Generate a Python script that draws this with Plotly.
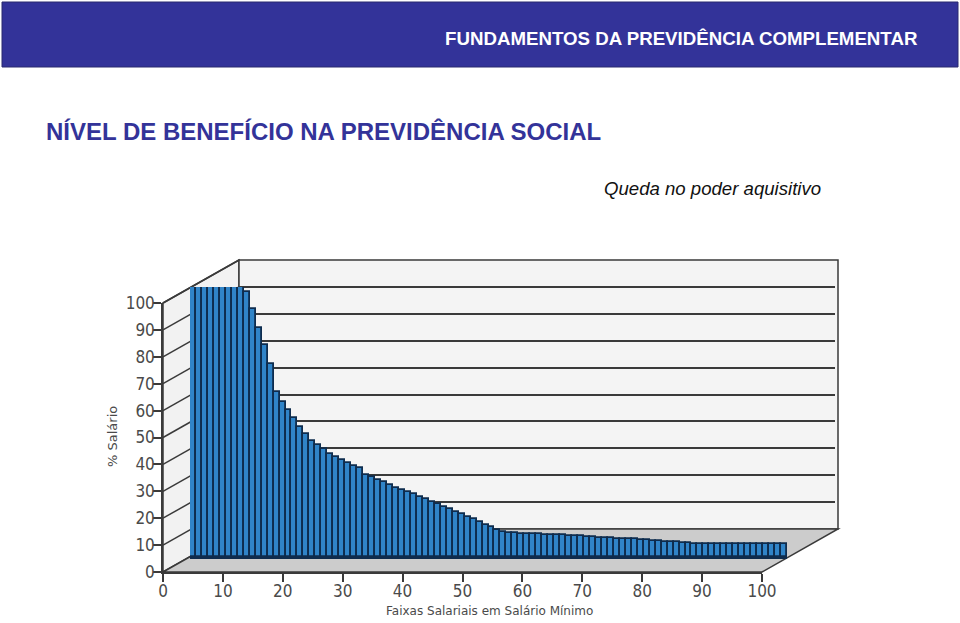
import plotly.graph_objects as go

W, H = 960, 623

# ---- data ----
faixas = list(range(1, 101))
pct_salario = [100] * 9 + [
    98.3, 91.8, 84.9, 78.5, 71.5, 61.2, 57.5, 54.4, 51.3, 48.3,
    45.5, 43.0, 41.5, 40.0, 38.1, 36.9, 35.9, 34.9, 33.6, 33.0,
    30.2, 29.5, 28.5, 27.7, 26.8, 25.6, 24.9, 24.1, 23.2, 22.3,
    21.4, 20.5, 19.6, 18.5, 17.7, 16.7, 15.8, 14.7, 14.0, 12.9,
    12.0, 11.0, 10.0, 9.3, 8.9, 8.8, 8.7, 8.6, 8.5, 8.4,
    8.3, 8.2, 8.1, 8.0, 7.9, 7.7, 7.6, 7.5, 7.3, 7.1,
    7.0, 6.9, 6.8, 6.7, 6.6, 6.5, 6.3, 6.2, 6.0, 5.9,
    5.7, 5.5, 5.4, 5.2, 5.1, 5.0, 5.0, 5.0, 5.0, 5.0,
    5.0, 5.0, 5.0, 5.0, 5.0, 5.0, 5.0, 5.0, 5.0, 5.0,
    5.0,
]
x_ticks = [0, 10, 20, 30, 40, 50, 60, 70, 80, 90, 100]
y_ticks = [0, 10, 20, 30, 40, 50, 60, 70, 80, 90, 100]
header_text = "FUNDAMENTOS DA PREVIDÊNCIA COMPLEMENTAR"
title_text = "NÍVEL DE BENEFÍCIO NA PREVIDÊNCIA SOCIAL"
subtitle_text = "Queda no poder aquisitivo"
x_title = "Faixas Salariais em Salário Mínimo"
y_title = "% Salário"

# ---- pixel geometry of the fake 3-D box ----
FX0, FX1, FY0, FY1 = 163, 762, 572, 303   # front plane
BX0, BX1, BY0, BY1 = 239, 838, 529, 260   # back wall
MX0, MX1, MY0, MY1 = 190, 787, 557, 287   # plane of the bars
LINE = "#3a3a3a"
TEXT = "#4a4a4a"
NAVY = "#0e2c4e"


def px(x):
    return x / W


def py(y):
    return 1 - y / H


def dom_x(a, b):
    return [px(a), px(b)]


def dom_y(a, b):
    return [py(a), py(b)]


def poly(points, fill, line=None, width=1.5):
    path = "M " + " L ".join(f"{px(x)},{py(y)}" for x, y in points) + " Z"
    return dict(type="path", path=path, xref="paper", yref="paper", layer="below",
                fillcolor=fill, line=dict(color=line or fill, width=width))


def seg(x0, y0, x1, y1, color=LINE, width=1.5):
    return dict(type="line", xref="paper", yref="paper", layer="below",
                x0=px(x0), y0=py(y0), x1=px(x1), y1=py(y1),
                line=dict(color=color, width=width))


shapes = [
    dict(type="rect", xref="paper", yref="paper", layer="below",
         x0=px(2), x1=px(958), y0=py(67), y1=py(2),
         fillcolor="#333399", line=dict(color="#2a2a6e", width=1)),
    poly([(FX0, FY1), (BX0, BY1), (BX0, BY0), (FX0, FY0)], "#f2f2f2", LINE),
    poly([(BX0, BY1), (BX1, BY1), (BX1, BY0), (BX0, BY0)], "#f4f4f4", LINE),
    poly([(FX0, FY0), (BX0, BY0), (BX1, BY0), (FX1, FY0)], "#cccccc", LINE),
]
step = (FY0 - FY1) / 10
for i in range(1, 11):
    y = FY0 - i * step
    shapes.append(seg(FX0, y, BX0, y - (FY0 - BY0)))

fig = go.Figure()
# back wall grid
fig.add_trace(go.Scatter(x=[0, 100], y=[0, 100], mode="markers", marker=dict(opacity=0),
                         hoverinfo="skip", showlegend=False, xaxis="x", yaxis="y"))
# bars
fig.add_trace(go.Bar(x=faixas, y=pct_salario, width=1, showlegend=False,
                     marker=dict(color="#3084c8", line=dict(color=NAVY, width=1.8)),
                     xaxis="x2", yaxis="y2"))
# front plane, carries the axes
fig.add_trace(go.Scatter(x=[0, 100], y=[0, 100], mode="markers", marker=dict(opacity=0),
                         hoverinfo="skip", showlegend=False, xaxis="x3", yaxis="y3"))

hidden = dict(showticklabels=False, ticks="", showline=False, zeroline=False, automargin=False)
font_ticks = dict(family="DejaVu Sans Condensed", size=17, color=TEXT)
font_titles = dict(family="DejaVu Sans", size=12, color=TEXT)

fig.update_layout(
    width=W, height=H, autosize=False,
    margin=dict(l=0, r=0, t=0, b=0, pad=0, autoexpand=False),
    paper_bgcolor="white", plot_bgcolor="rgba(0,0,0,0)",
    bargap=0, shapes=shapes,
    xaxis=dict(domain=dom_x(BX0, BX1 - 3), range=[0, 100], showgrid=False, anchor="y", **hidden),
    yaxis=dict(domain=dom_y(BY0, BY1), range=[0, 100], tickvals=y_ticks[1:-1], showgrid=True,
               gridcolor=LINE, gridwidth=1.5, anchor="x", **hidden),
    xaxis2=dict(domain=dom_x(MX0, MX1), range=[0.5, 100.5], showgrid=False, anchor="y2",
                showticklabels=False, ticks="", zeroline=False, automargin=False,
                showline=True, linecolor=NAVY, linewidth=1.5),
    yaxis2=dict(domain=dom_y(MY0, MY1), range=[0, 100], showgrid=False, anchor="x2", **hidden),
    xaxis3=dict(domain=dom_x(FX0, FX1), range=[0, 100], tickvals=x_ticks, ticks="outside",
                ticklen=8, tickwidth=1.5, tickcolor=LINE, showline=True, linecolor=LINE,
                linewidth=1.5, showgrid=False, zeroline=False, tickfont=font_ticks, anchor="y3",
                automargin=False, ticklabelstandoff=-5),
    yaxis3=dict(domain=dom_y(FY0, FY1), range=[0, 100], tickvals=y_ticks, ticks="outside",
                ticklen=8, tickwidth=1.5, tickcolor=LINE, showline=True, linecolor=LINE,
                linewidth=1.5, showgrid=False, zeroline=False, tickfont=font_ticks, anchor="x3",
                automargin=False, ticklabelstandoff=-5),
    annotations=[
        dict(text=f"<b>{header_text}</b>", xref="paper", yref="paper", x=px(920), y=py(39),
             xanchor="right", yanchor="middle", showarrow=False,
             font=dict(family="Liberation Sans", size=18.7, color="white")),
        dict(text=f"<b>{title_text}</b>", xref="paper", yref="paper", x=px(44), y=py(131),
             xanchor="left", yanchor="middle", showarrow=False,
             font=dict(family="Liberation Sans", size=24, color="#333399")),
        dict(text=f"<i>{subtitle_text}</i>", xref="paper", yref="paper", x=px(602), y=py(188.5),
             xanchor="left", yanchor="middle", showarrow=False,
             font=dict(family="Liberation Sans", size=18.6, color="#111111")),
        dict(text=x_title, xref="paper", yref="paper", x=px(490), y=py(611),
             xanchor="center", yanchor="middle", showarrow=False, font=font_titles),
        dict(text=y_title, xref="paper", yref="paper", x=px(112), y=py(437), textangle=-90,
             xanchor="center", yanchor="middle", showarrow=False,
             font=dict(family="DejaVu Sans", size=13, color=TEXT)),
    ],
)
assert len(pct_salario) == len(faixas), len(pct_salario)
fig.write_html("out.html", config=dict(displayModeBar=False),
               post_script="document.body.style.margin='0';")
